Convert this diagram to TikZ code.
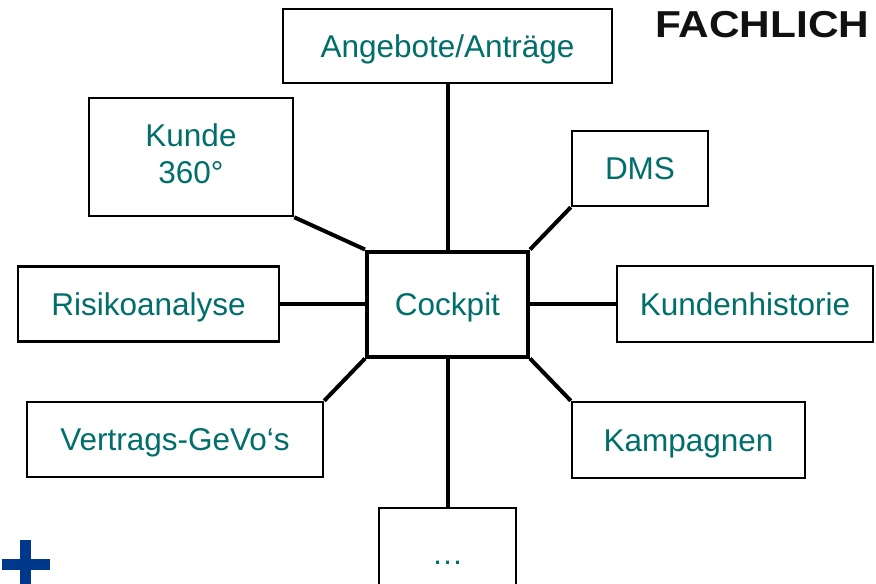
\documentclass[tikz,border=0pt]{standalone}
\usepackage{fontspec}
\setmainfont{Liberation Sans}
\definecolor{tealtext}{RGB}{0,110,106}
\definecolor{plusblue}{RGB}{0,56,140}
\definecolor{headtext}{RGB}{17,17,17}
\begin{document}
\begin{tikzpicture}[x=1pt,y=-1pt,
  box/.style={draw=black, line width=2.5pt, fill=white, inner sep=0pt,
    text=tealtext, font=\fontsize{31.5}{37}\selectfont, align=center,
    text height=22.5pt, text depth=0pt},
  hub/.style={box, line width=4pt},
  link/.style={line width=4pt, draw=black}]
\useasboundingbox (0,0) rectangle (876,584);
\node[box, minimum width=329pt, minimum height=74pt] (ang) at (447.5,46) {Angebote/Anträge};
\node[box, minimum width=204pt, minimum height=118pt, text height=, text depth=7pt] (kunde) at (191,157) {Kunde\\360°};
\node[box, minimum width=136pt, minimum height=75pt] (dms) at (640,168.5) {DMS};
\node[box, minimum width=261pt, minimum height=75pt] (risk) at (148.5,304) {Risikoanalyse};
\node[hub, minimum width=161pt, minimum height=105pt] (cock) at (447.5,304) {Cockpit};
\node[box, minimum width=256pt, minimum height=76pt] (hist) at (745,304) {Kundenhistorie};
\node[box, minimum width=296pt, minimum height=75pt] (vert) at (175,439.5) {Vertrags-GeVo‘s};
\node[box, minimum width=233pt, minimum height=76pt] (kamp) at (688.5,440) {Kampagnen};
\node[box, minimum width=137pt, minimum height=92pt, text depth=2.5pt] (dots) at (447.5,554) {…};
\draw[link] (ang.south) -- (cock.north);
\draw[link] (kunde.south east) -- (cock.north west);
\draw[link] (dms.south west) -- (cock.north east);
\draw[link] (risk.east) -- (cock.west);
\draw[link] (hist.west) -- (cock.east);
\draw[link] (vert.north east) -- (cock.south west);
\draw[link] (kamp.north west) -- (cock.south east);
\draw[link] (dots.north) -- (cock.south);
\node[anchor=base west, inner sep=0pt, text=headtext,
  font=\fontsize{37.5}{42}\selectfont\bfseries] (fach) at (655,37) {\scalebox{1.13}[1]{FACHLICH}};
% plus sign
\fill[plusblue] (2,559) rectangle (50,570);
\fill[plusblue] (20,540) rectangle (31,590);
\end{tikzpicture}
\end{document}
